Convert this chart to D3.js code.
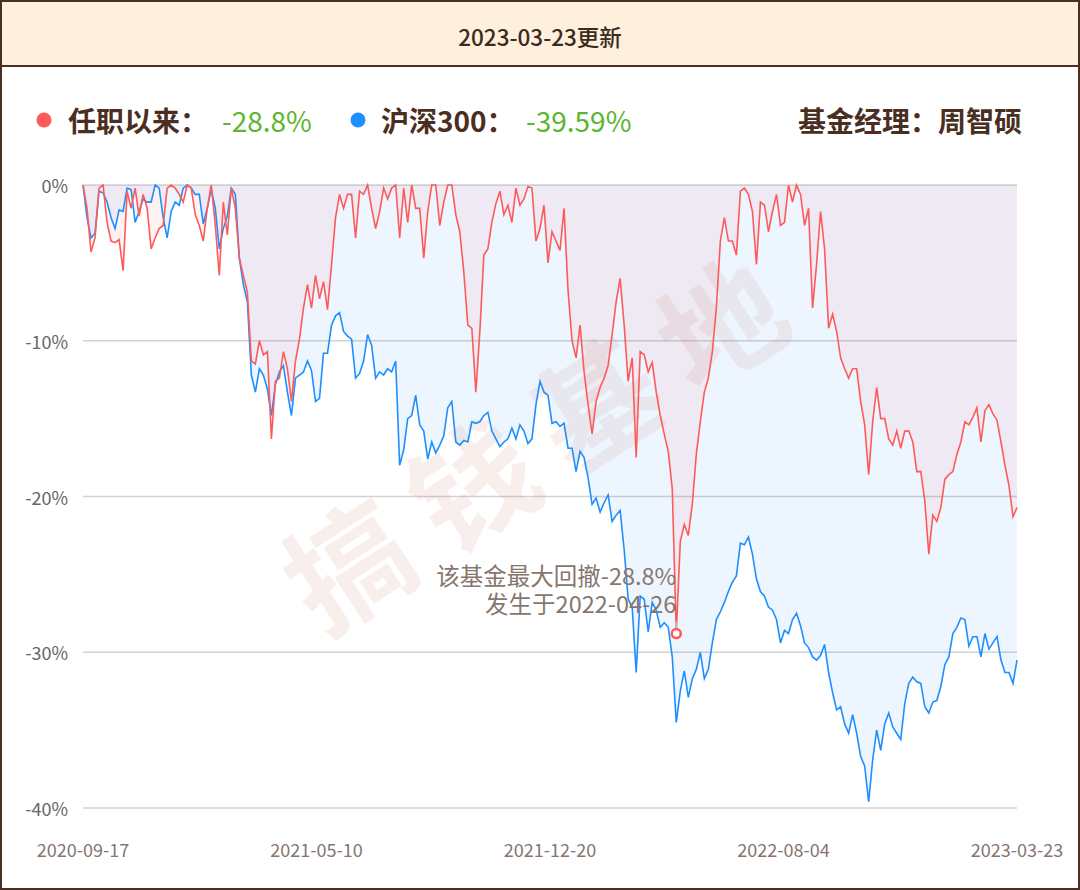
<!DOCTYPE html>
<html><head><meta charset="utf-8">
<script src="https://cdn.jsdelivr.net/npm/d3@7"></script>
<style>html,body{margin:0;padding:0;background:#fff;}svg{display:block;}</style>
</head><body>
<svg id="c" width="1080" height="890"></svg>
<script>
const title = "2023-03-23更新";
const seriesNames = ["任职以来：", "沪深300："];
const seriesTotals = ["-28.8%", "-39.59%"];
const managerText = "基金经理：周智硕";
const xTickLabels = ["2020-09-17", "2021-05-10", "2021-12-20", "2022-08-04", "2023-03-23"];
const yTicks = [0, -10, -20, -30, -40];
const annotationLines = ["该基金最大回撤-28.8%", "发生于2022-04-26"];
const watermark = "搞钱基地";

const fundDrawdown = [
0,-1.5,-4.3,-3.4,-0.2,0,-2.4,-3.6,-3.7,-3.5,-5.5,-0.4,-1.5,-0.2,-2.0,-0.6,-1.5,-4.1,-3.4,-2.8,-2.6,-0.2,0,-0.2,-0.6,-1.1,0,-0.2,-1.9,-2.6,-3.6,-1.5,0,-2.6,-5.8,-1.1,-3.2,-0.2,-1.5,-4.7,-5.8,-6.9,-11.3,-11.5,-10.0,-10.9,-10.7,-16.3,-12.6,-12.4,-10.7,-11.8,-13.9,-11.3,-9.9,-7.9,-6.4,
-7.9,-5.8,-7.3,-6.2,-8.0,-5.1,-2.1,-0.6,-1.5,-0.6,-0.6,-3.4,-0.4,-0.6,0,-1.5,-2.8,-1.7,-0.2,-0.9,-0.2,0,-3.4,-0.2,-2.4,0,-1.5,-1.5,-4.7,-1.7,0,0,-2.6,-1.1,0,0,-1.9,-3.0,-5.6,-9.0,-9.2,-13.3,-9.4,-4.5,-4.1,-2.4,-1.2,-0.4,-1.9,-1.3,-2.4,-0.2,-1.3,-0.9,-0.1,-0.2,-3.6,-2.8,
-1.3,-5.0,-3.0,-3.6,-4.2,-1.5,-6.8,-10.0,-11.1,-9.0,-12.0,-14.1,-16.0,-13.9,-13.0,-12.4,-11.6,-9.6,-7.5,-6.0,-9.0,-12.6,-11.1,-17.5,-10.7,-10.9,-12.0,-11.4,-13.3,-14.8,-16.0,-17.1,-19.5,-28.8,-22.9,-21.8,-22.5,-20.5,-17.3,-15.2,-13.3,-12.4,-10.7,-7.9,-3.6,-2.1,-3.6,-3.6,-4.5,-0.4,-0.2,-0.6,-1.7,-5.1,-1.1,-1.3,-3.0,
-1.7,-0.6,-2.6,-2.4,0,-1.1,0,-0.6,-2.6,-1.5,-7.9,-5.1,-1.7,-4.1,-9.2,-8.3,-9.4,-11.1,-11.8,-12.4,-11.8,-11.8,-13.9,-15.4,-18.6,-15.2,-13.0,-15.0,-15.0,-16.3,-16.7,-15.8,-16.9,-15.8,-15.8,-16.5,-18.4,-18.4,-20.3,-23.7,-21.2,-21.6,-20.7,-18.9,-18.6,-18.4,-17.3,-16.5,-15.2,-15.4,-14.9,-14.3,-16.5,-14.5,-14.1,-14.7,-15.1,-16.5,-18.0,-19.3,-21.3,-20.7
];
const indexDrawdown = [
0,-2.1,-3.4,-3.1,-0.4,-0.5,-1.1,-2.1,-2.8,-1.6,-1.7,-0.2,-0.3,-2.4,-1.7,-0.9,-1.1,-1.1,0,-0.2,-2.1,-3.4,-1.7,-1.1,-1.3,-0.2,0,-0.2,-0.6,-0.6,-2.5,-1.5,-0.3,-1.5,-4.1,-2.8,-2.0,-0.2,-0.6,-4.7,-6.4,-7.5,-12.2,-13.3,-11.8,-12.2,-13.1,-14.8,-12.8,-12.0,-11.6,-13.3,-14.8,-12.4,-12.2,-12.0,-11.3,
-11.9,-13.9,-13.7,-10.8,-10.8,-9.0,-8.4,-8.2,-9.4,-9.7,-9.9,-12.4,-12.1,-11.3,-9.6,-10.3,-12.4,-12.0,-12.2,-11.8,-12.0,-11.3,-18.0,-17.0,-15.0,-14.8,-13.5,-15.4,-15.8,-17.6,-16.5,-17.2,-16.7,-16.1,-14.3,-13.9,-16.5,-16.7,-16.4,-16.5,-15.2,-15.3,-15.2,-14.8,-14.6,-15.8,-16.3,-16.8,-16.5,-16.3,-15.6,-16.3,-15.4,-15.8,-16.6,-16.3,-14.1,-12.6,
-13.3,-13.5,-15.3,-15.2,-15.5,-15.3,-16.9,-16.9,-18.4,-17.1,-17.5,-18.8,-20.5,-20.1,-21.0,-20.4,-19.9,-21.6,-21.2,-20.9,-23.4,-26.6,-27.1,-31.3,-26.4,-26.6,-28.7,-26.8,-27.3,-28.4,-28.1,-28.4,-30.3,-34.5,-32.5,-31.2,-32.9,-31.7,-31.1,-30.0,-31.7,-31.1,-29.4,-27.9,-27.4,-26.8,-26.1,-25.5,-25.1,-23.0,-23.1,-22.6,-23.7,-25.3,-26.1,-26.4,-27.1,
-27.3,-27.9,-29.4,-28.6,-28.8,-27.9,-27.5,-28.3,-29.4,-29.7,-30.3,-30.5,-30.2,-29.5,-31.3,-32.6,-33.7,-33.5,-34.6,-35.2,-34.0,-35.2,-36.7,-37.3,-39.6,-36.9,-35.0,-36.3,-34.6,-33.9,-34.8,-35.2,-35.6,-33.3,-32.0,-31.6,-31.9,-32.0,-33.5,-33.9,-33.2,-33.1,-32.2,-30.8,-30.3,-28.8,-28.4,-27.8,-27.9,-29.6,-29.0,-29.0,-30.3,-28.8,-29.8,-29.4,-29.0,-30.5,-31.3,-31.3,-32.0,-30.5
];

const W = 1080, H = 890;
const svg = d3.select("#c");
const CJK = "'Noto Sans CJK SC','Noto Sans',sans-serif";
const brown = "#4b2e22";

// header
svg.append("rect").attr("x",1).attr("y",1).attr("width",W-2).attr("height",65).attr("fill","#fef0dc");
svg.append("line").attr("x1",0).attr("x2",W).attr("y1",66).attr("y2",66).attr("stroke",brown).attr("stroke-width",2);
svg.append("text").attr("x",540).attr("y",36).attr("text-anchor","middle").attr("dominant-baseline","central")
  .attr("font-family",CJK).attr("font-weight",500).attr("font-size",22.5).attr("fill","#3a2a20").text(title);

// legend
const legendItems = [
  {x:44, color:"#ff5a5a", name:seriesNames[0], val:seriesTotals[0], tx:68, vx:222},
  {x:358, color:"#1e8fff", name:seriesNames[1], val:seriesTotals[1], tx:381, vx:526}
];
legendItems.forEach(d=>{
  svg.append("circle").attr("cx",d.x).attr("cy",120).attr("r",7.5).attr("fill",d.color);
  svg.append("text").attr("x",d.tx).attr("y",120).attr("dominant-baseline","central")
    .attr("font-family",CJK).attr("font-weight","bold").attr("font-size",28).attr("fill",brown).text(d.name);
  svg.append("text").attr("x",d.vx).attr("y",120).attr("dominant-baseline","central")
    .attr("font-family",CJK).attr("font-size",28).attr("fill","#5cb531").text(d.val);
});
svg.append("text").attr("x",1022).attr("y",120).attr("text-anchor","end").attr("dominant-baseline","central")
  .attr("font-family",CJK).attr("font-weight","bold").attr("font-size",28).attr("fill",brown).text(managerText);

// scales
const n = fundDrawdown.length;
const x = d3.scaleLinear().domain([0, n-1]).range([83, 1017]);
const y = d3.scaleLinear().domain([0, -40]).range([185, 808]);

// grid + y labels
yTicks.forEach(t=>{
  svg.append("line").attr("x1",83).attr("x2",1017).attr("y1",y(t)).attr("y2",y(t))
    .attr("stroke","#d2d2d2").attr("stroke-width",1.5);
  svg.append("text").attr("x",68).attr("y",y(t)).attr("text-anchor","end").attr("dominant-baseline","central")
    .attr("font-family",CJK).attr("font-size",18).attr("fill","#666").text(t + "%");
});

// x labels
xTickLabels.forEach((lab,i)=>{
  const idx = i*(n-1)/(xTickLabels.length-1);
  svg.append("text").attr("x",x(idx)).attr("y",849).attr("text-anchor","middle").attr("dominant-baseline","central")
    .attr("font-family",CJK).attr("font-size",18).attr("fill","#857670").text(lab);
});

// areas
const area = d3.area().x((d,i)=>x(i)).y0(y(0)).y1(d=>y(d));
svg.append("path").datum(indexDrawdown).attr("d",area).attr("fill","rgba(30,143,255,0.08)");
svg.append("path").datum(fundDrawdown).attr("d",area).attr("fill","rgba(255,90,90,0.08)");

// watermark
svg.append("text").attr("x",0).attr("y",0).attr("text-anchor","middle").attr("dominant-baseline","central")
  .attr("transform","translate(542,432) rotate(-33)")
  .attr("font-family",CJK).attr("font-weight","bold").attr("font-size",122).attr("letter-spacing",26)
  .attr("fill","rgba(190,110,90,0.11)").text(watermark);

// lines
const line = d3.line().x((d,i)=>x(i)).y(d=>y(d));
svg.append("path").datum(indexDrawdown).attr("d",line).attr("fill","none").attr("stroke","#1e8fff").attr("stroke-width",1.6);
svg.append("path").datum(fundDrawdown).attr("d",line).attr("fill","none").attr("stroke","#ff5a5a").attr("stroke-width",1.6);

// max drawdown marker
const minIdx = d3.minIndex(fundDrawdown);
const mx = x(minIdx), my = y(fundDrawdown[minIdx]);
svg.append("line").attr("x1",mx).attr("x2",mx).attr("y1",my-12).attr("y2",my-5).attr("stroke","#bbb").attr("stroke-width",2);
svg.append("circle").attr("cx",mx).attr("cy",my).attr("r",4.5).attr("fill","#fff").attr("stroke","#ff5a5a").attr("stroke-width",2.5);
annotationLines.forEach((t,i)=>{
  svg.append("text").attr("x",mx).attr("y",575+i*28).attr("text-anchor","end").attr("dominant-baseline","central")
    .attr("font-family",CJK).attr("font-size",23.5).attr("fill","#86766e").text(t);
});

// outer border
svg.append("rect").attr("x",1).attr("y",1).attr("width",W-2).attr("height",H-2).attr("fill","none").attr("stroke",brown).attr("stroke-width",2);
</script>
</body></html>
